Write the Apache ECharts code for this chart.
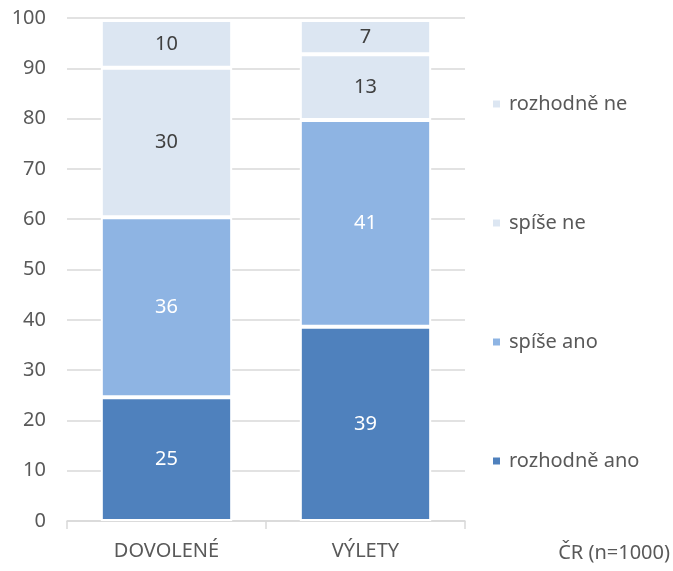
<!DOCTYPE html>
<html>
<head>
<meta charset="utf-8">
<script src="https://cdn.jsdelivr.net/npm/echarts@6/dist/echarts.min.js"></script>
<style>
  html, body { margin: 0; padding: 0; background: #fff; }
  #chart { width: 673px; height: 571px; }
</style>
</head>
<body>
<div id="chart"></div>
<script>
const categories = ['DOVOLENÉ', 'VÝLETY']
const rozhodneAno = [24.6, 38.6]
const spiseAno = [35.8, 41.1]
const spiseNe = [29.7, 13.1]
const rozhodneNe = [9.5, 6.8]
const legendOrder = ['rozhodně ne', 'spíše ne', 'spíše ano', 'rozhodně ano']

const font = 'Noto Sans'

function makeSeries(name, data, color, labelColor) {
  return {
    name: name,
    type: 'bar',
    stack: 'total',
    data: data,
    barWidth: '66%',
    itemStyle: { color: color, borderColor: '#fff', borderWidth: 2 },
    label: {
      show: true,
      position: 'inside',
      color: labelColor,
      fontFamily: font,
      fontSize: 20,
      formatter: p => Math.round(p.value)
    }
  }
}

const chart = echarts.init(document.getElementById('chart'))
chart.setOption({
  animation: false,
  grid: { left: 67, right: 208, top: 18, bottom: 50 },
  legend: {
    data: legendOrder,
    orient: 'vertical',
    left: 491,
    top: 94,
    padding: 0,
    itemWidth: 9,
    itemHeight: 9,
    itemGap: 99,
    icon: 'rect',
    textStyle: { fontFamily: font, fontSize: 20, color: '#595959', padding: [0, 0, 0, 3] }
  },
  xAxis: {
    type: 'category',
    data: categories,
    axisLine: { lineStyle: { color: '#d9d9d9', width: 1.5 } },
    axisTick: { show: true, length: 8, lineStyle: { color: '#d9d9d9', width: 1.5 } },
    axisLabel: { fontFamily: font, fontSize: 20, color: '#595959', margin: 20 }
  },
  yAxis: {
    type: 'value',
    min: 0,
    max: 100,
    interval: 10,
    axisLine: { show: false },
    axisTick: { show: false },
    splitLine: { lineStyle: { color: '#d9d9d9', width: 1.5 } },
    axisLabel: { fontFamily: font, fontSize: 20, color: '#595959', margin: 21 }
  },
  graphic: [{
    type: 'text',
    right: 3,
    top: 543,
    style: { text: 'ČR (n=1000)', fontFamily: font, fontSize: 20, fill: '#595959' }
  }],
  series: [
    makeSeries('rozhodně ano', rozhodneAno, '#4f81bd', '#fff'),
    makeSeries('spíše ano', spiseAno, '#8eb4e3', '#fff'),
    makeSeries('spíše ne', spiseNe, '#dce6f2', '#404040'),
    makeSeries('rozhodně ne', rozhodneNe, '#dce6f2', '#404040')
  ]
})
</script>
</body>
</html>
